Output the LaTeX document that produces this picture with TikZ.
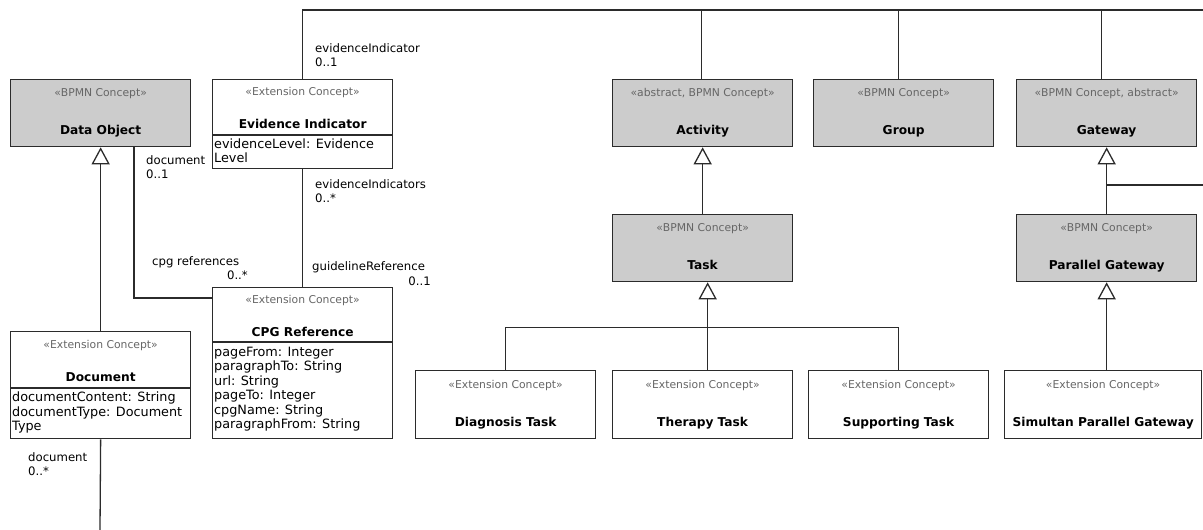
\documentclass[tikz,border=0pt]{standalone}
\usepackage{fontspec}
\setmainfont{DejaVu Sans}
\usetikzlibrary{arrows.meta,calc}
\definecolor{bpmn}{HTML}{CCCCCC}
\definecolor{linec}{HTML}{2B2B2B}
\definecolor{stc}{HTML}{666666}
\begin{document}
\begin{tikzpicture}[x=1pt,y=-1pt,
  cls/.style={draw=linec, line width=1.3pt, anchor=north west, inner sep=0pt, minimum width=180pt},
  concept/.style={cls, fill=bpmn},
  stereo/.style={font=\fontsize{10.8}{12}\selectfont, text=stc, inner sep=0pt, anchor=base},
  cname/.style={font=\fontsize{12.2}{14}\selectfont\bfseries, text=black, inner sep=0pt, anchor=base},
  attr/.style={font=\fontsize{12.8}{14.5}\selectfont, align=left, anchor=north west, inner sep=0pt},
  lbl/.style={font=\fontsize{11.7}{14}\selectfont, align=left, inner sep=0pt},
  conn/.style={draw=linec, line width=1.3pt},
  gen/.style={conn, -{Triangle[open, length=17pt, width=18pt]}},
]
\useasboundingbox (0,0) rectangle (1203,530);

% ---------- classes ----------
\node[concept, minimum height=67pt] (dataobj) at (10,79) {};
\node[stereo] at ([yshift=-17pt]dataobj.north) {«BPMN Concept»};
\node[cname] at ([yshift=-55.5pt]dataobj.north) {Data Object};

\node[cls, minimum height=89pt] (evid) at (212,79) {};
\node[stereo] at ([yshift=-16pt]evid.north) {«Extension Concept»};
\node[cname] at ([yshift=-49.5pt]evid.north) {Evidence Indicator};
\draw[conn] ([yshift=-56pt]evid.north west) -- ([yshift=-56pt]evid.north east);
\node[attr] at ([xshift=2pt,yshift=-59.5pt]evid.north west) {evidenceLevel: Evidence\\Level};

\node[cls, minimum height=151pt] (cpgref) at (212,287) {};
\node[stereo] at ([yshift=-16pt]cpgref.north) {«Extension Concept»};
\node[cname] at ([yshift=-49.5pt]cpgref.north) {CPG Reference};
\draw[conn] ([yshift=-55pt]cpgref.north west) -- ([yshift=-55pt]cpgref.north east);
\node[attr] at ([xshift=2pt,yshift=-59.5pt]cpgref.north west)
  {pageFrom: Integer\\paragraphTo: String\\url: String\\pageTo: Integer\\cpgName: String\\paragraphFrom: String};

\node[cls, minimum height=107pt] (document) at (10,331) {};
\node[stereo] at ([yshift=-17pt]document.north) {«Extension Concept»};
\node[cname] at ([yshift=-50.5pt]document.north) {Document};
\draw[conn] ([yshift=-57pt]document.north west) -- ([yshift=-57pt]document.north east);
\node[attr] at ([xshift=2pt,yshift=-61pt]document.north west)
  {documentContent: String\\documentType: Document\\Type};

\node[concept, minimum height=67pt] (activity) at (612,79) {};
\node[stereo] at ([yshift=-17pt]activity.north) {«abstract, BPMN Concept»};
\node[cname] at ([yshift=-55.5pt]activity.north) {Activity};

\node[concept, minimum height=67pt] (group) at (813,79) {};
\node[stereo] at ([yshift=-17pt]group.north) {«BPMN Concept»};
\node[cname] at ([yshift=-55.5pt]group.north) {Group};

\node[concept, minimum height=67pt] (gateway) at (1016,79) {};
\node[stereo] at ([yshift=-17pt]gateway.north) {«BPMN Concept, abstract»};
\node[cname] at ([yshift=-55.5pt]gateway.north) {Gateway};

\node[concept, minimum height=67pt] (task) at (612,214) {};
\node[stereo] at ([yshift=-17pt]task.north) {«BPMN Concept»};
\node[cname] at ([yshift=-55.5pt]task.north) {Task};

\node[concept, minimum height=67pt] (pargw) at (1016,214) {};
\node[stereo] at ([yshift=-17pt]pargw.north) {«BPMN Concept»};
\node[cname] at ([yshift=-55.5pt]pargw.north) {Parallel Gateway};

\node[cls, minimum height=68pt] (diag) at (415,370) {};
\node[stereo] at ([yshift=-18pt]diag.north) {«Extension Concept»};
\node[cname] at ([yshift=-56.5pt]diag.north) {Diagnosis Task};

\node[cls, minimum height=68pt] (therapy) at (612,370) {};
\node[stereo] at ([yshift=-18pt]therapy.north) {«Extension Concept»};
\node[cname] at ([yshift=-56.5pt]therapy.north) {Therapy Task};

\node[cls, minimum height=68pt] (support) at (808,370) {};
\node[stereo] at ([yshift=-18pt]support.north) {«Extension Concept»};
\node[cname] at ([yshift=-56.5pt]support.north) {Supporting Task};

\node[cls, minimum height=68pt, minimum width=197pt] (simultan) at (1004,370) {};
\node[stereo] at ([yshift=-18pt]simultan.north) {«Extension Concept»};
\node[cname] at ([yshift=-56.5pt]simultan.north) {Simultan Parallel Gateway};

% ---------- connectors ----------
\coordinate (topR) at (1203,10);
\coordinate (gwR) at (1203,185);
\coordinate (docB) at (100,530);
\coordinate (atop) at ($(activity.north)+(-1,0)$);
\coordinate (grtop) at ($(group.north)+(-5,0)$);
\coordinate (gwtop) at ($(gateway.north)+(-5,0)$);
\coordinate (tk) at ($(task.south)+(5,0)$);
\coordinate (bus) at ($(tk)+(0,45)$);
\coordinate (dref) at ($(dataobj.south west)+(124,0)$);
\coordinate (cref) at ($(cpgref.north west)+(0,11)$);

\draw[conn] (evid.north) |- (topR);
\draw[conn] (atop) -- (atop |- topR);
\draw[conn] (grtop) -- (grtop |- topR);
\draw[conn] (gwtop) -- (gwtop |- topR);

\draw[gen] (document.north) -- (dataobj.south);
\draw[conn] (document.south) -- (docB);
\draw[conn] (dref) |- (cref);
\draw[conn] (evid.south) -- (cpgref.north);

\draw[gen] (task.north) -- (activity.south);
\draw[gen] (therapy.north -| tk) -- (tk);
\draw[conn] (diag.north) |- (bus);
\draw[conn] (support.north) |- (bus);

\draw[gen] (pargw.north) -- (gateway.south);
\draw[conn] (gwR) -- (gwR -| gateway.south);
\draw[gen] (simultan.north -| pargw.south) -- (pargw.south);

% ---------- role labels ----------
\node[lbl, anchor=west] (lEvTop) at (315,55) {evidenceIndicator\\0..1};
\node[lbl, anchor=west] (lDocA) at (146,167) {document\\0..1};
\node[lbl, anchor=west] (lCpg) at (152,262) {cpg references};
\node[lbl, anchor=east] (lCpgM) at (248,275) {0..*};
\node[lbl, anchor=west] (lEvs) at (315,191) {evidenceIndicators\\0..*};
\node[lbl, anchor=west] (lGuide) at (312,267) {guidelineReference};
\node[lbl, anchor=east] (lGuideM) at (431,281) {0..1};
\node[lbl, anchor=west] (lDocB) at (28,464) {document\\0..*};
\end{tikzpicture}
\end{document}
